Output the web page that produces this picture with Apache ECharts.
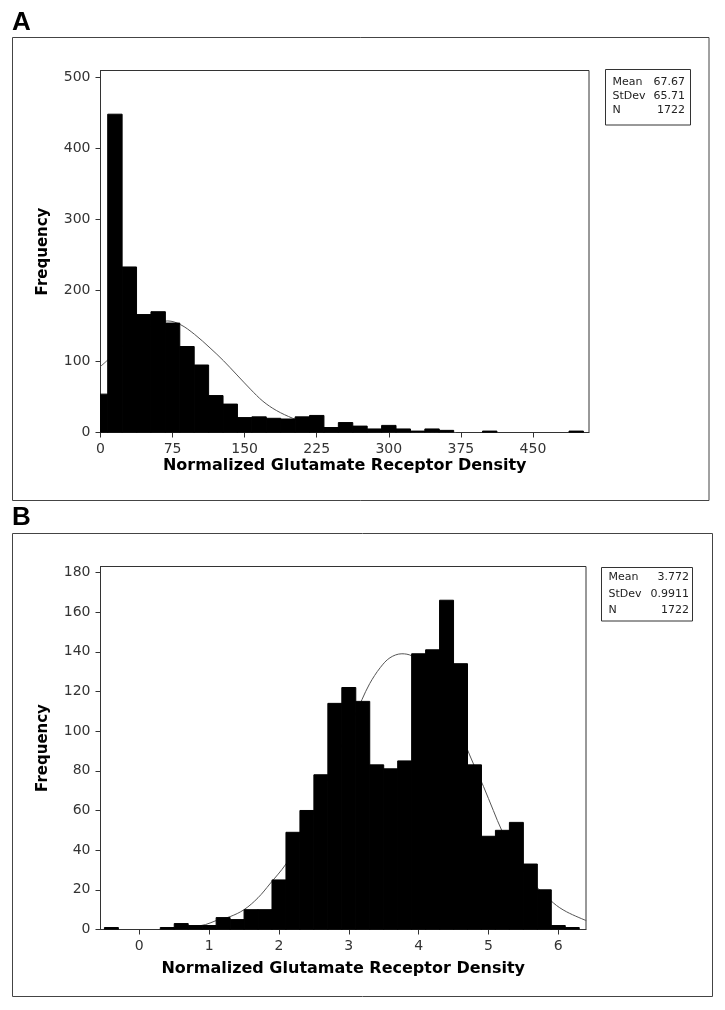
<!DOCTYPE html>
<html><head><meta charset="utf-8">
<script src="https://cdn.jsdelivr.net/npm/echarts@6/dist/echarts.min.js"></script>
<style>html,body{margin:0;padding:0;background:#fff}#c{width:725px;height:1010px}</style>
</head><body><div id="c"></div>
<script>
// ---------- Panel A data ----------
const binWidthA = 15;
const binCentersA = [0,15,30,45,60,75,90,105,120,135,150,165,180,195,210,225,240,255,270,285,300,315,330,345,360,375,390,405,420,435,450,465,480,495];
const countsA     = [54,448,233,166,170,154,121,95,52,40,21,22,20,19,22,24,7,14,9,5,10,5,2,5,3,0,0,2,0,0,0,0,0,2];
const curveXA = [0,7.5,15,30,45,60,70,83,98,114,128,142,156,169,183,200,215,235,250,280,320,370];
const curveYA = [93,102,112,130,145,154,157,152,138,119,101,81,61,44,31,20,12.5,6,3.5,1,0.2,0];
const xTicksA = [0,75,150,225,300,375,450];
const yTicksA = [0,100,200,300,400,500];
const statLabelsA = ['Mean','StDev','N'];
const statValuesA = ['67.67','65.71','1722'];

// ---------- Panel B data ----------
const binWidthB = 0.2;
const binCentersB = [-0.4,-0.2,0,0.2,0.4,0.6,0.8,1.0,1.2,1.4,1.6,1.8,2.0,2.2,2.4,2.6,2.8,3.0,3.2,3.4,3.6,3.8,4.0,4.2,4.4,4.6,4.8,5.0,5.2,5.4,5.6,5.8,6.0,6.2];
const countsB     = [1,0,0,0,1,3,2,2,6,5,10,10,25,49,60,78,114,122,115,83,81,85,139,141,166,134,83,47,50,54,33,20,2,1];
const curveXB = [0.5,0.7,0.95,1.1,1.3,1.5,1.7,1.87,2.1,2.3,2.5,2.7,2.9,3.19,3.3,3.45,3.59,3.76,3.9,4.1,4.3,4.5,4.73,4.93,5.07,5.19,5.4,5.6,5.93,6.12,6.4];
const curveYB = [0.6,1.1,2.5,4.5,6.5,10,16,23,33,45,59,76,93,116,124,132,137,139,138,133,122,108,88,72,60,50,36,25,13.4,8.9,4.5];
const xTicksB = [0,1,2,3,4,5,6];
const yTicksB = [0,20,40,60,80,100,120,140,160,180];
const statLabelsB = ['Mean','StDev','N'];
const statValuesB = ['3.772','0.9911','1722'];

const xTitle = 'Normalized Glutamate Receptor Density';
const yTitle = 'Frequency';
const FONT = 'DejaVu Sans';

function bins(centers, counts, w) {
  return centers.map((c, i) => [c - w / 2, c + w / 2, counts[i]]).filter(d => d[2] > 0);
}
function renderBar(params, api) {
  const p0 = api.coord([api.value(0), api.value(2)]);
  const p1 = api.coord([api.value(1), 0]);
  return { type: 'rect', shape: { x: p0[0], y: p0[1], width: p1[0] - p0[0], height: p1[1] - p0[1] },
           style: { fill: '#000', stroke: '#000', lineWidth: 1 } };
}
function xAxisCfg(gi, min, max, ticks, gap) {
  return { gridIndex: gi, type: 'value', min: min, max: max,
    axisLine: { show: true, onZero: false, lineStyle: { color: '#333', width: 1 } },
    axisTick: { show: true, customValues: ticks, length: 5, lineStyle: { color: '#333' } },
    axisLabel: { customValues: ticks, color: '#333', fontSize: 14, fontFamily: FONT, margin: 10 },
    splitLine: { show: false },
    name: xTitle, nameLocation: 'middle', nameGap: gap,
    nameTextStyle: { fontSize: 16, fontWeight: 'bold', color: '#000', fontFamily: FONT } };
}
function yAxisCfg(gi, max, ticks) {
  return { gridIndex: gi, type: 'value', min: 0, max: max,
    axisLine: { show: true, onZero: false, lineStyle: { color: '#333', width: 1 } },
    axisTick: { show: true, customValues: ticks, length: 5, lineStyle: { color: '#333' } },
    axisLabel: { customValues: ticks, color: '#333', fontSize: 14, fontFamily: FONT, margin: 10 },
    splitLine: { show: false },
    name: yTitle, nameLocation: 'middle', nameGap: 50,
    nameTextStyle: { fontSize: 15, fontWeight: 'bold', color: '#000', fontFamily: FONT } };
}
function statsBox(x, y, w, h, labels, values, lx, vx, rows) {
  const children = [{ type: 'rect', shape: { x: x, y: y, width: w, height: h },
    style: { fill: '#fff', stroke: '#333', lineWidth: 1 } }];
  labels.forEach((l, i) => {
    children.push({ type: 'text', x: lx, y: rows[i], style: { text: l, fontSize: 11, fontFamily: FONT, fill: '#222', align: 'left', verticalAlign: 'middle' } });
    children.push({ type: 'text', x: vx, y: rows[i], style: { text: values[i], fontSize: 11, fontFamily: FONT, fill: '#222', align: 'right', verticalAlign: 'middle' } });
  });
  return { type: 'group', children: children };
}

const chart = echarts.init(document.getElementById('c'), null, { renderer: 'canvas' });
chart.setOption({
  animation: false,
  backgroundColor: '#fff',
  grid: [
    { left: 100.5, top: 70.5, width: 488.5, height: 362, show: true, borderColor: '#333', borderWidth: 1, backgroundColor: '#fff' },
    { left: 100.5, top: 566.5, width: 485.5, height: 363, show: true, borderColor: '#333', borderWidth: 1, backgroundColor: '#fff' }
  ],
  xAxis: [ xAxisCfg(0, 0, 508.3, xTicksA, 25), xAxisCfg(1, -0.556, 6.397, xTicksB, 31) ],
  yAxis: [ yAxisCfg(0, 509.5, yTicksA), yAxisCfg(1, 183, yTicksB) ],
  series: [
    { type: 'line', xAxisIndex: 0, yAxisIndex: 0, data: curveXA.map((x, i) => [x, curveYA[i]]),
      smooth: 0.35, symbol: 'none', lineStyle: { color: '#555', width: 1 }, z: 1, silent: true, clip: true },
    { type: 'custom', xAxisIndex: 0, yAxisIndex: 0, data: bins(binCentersA, countsA, binWidthA),
      encode: { x: [0, 1], y: 2 }, renderItem: renderBar, clip: true, z: 2, silent: true },
    { type: 'line', xAxisIndex: 1, yAxisIndex: 1, data: curveXB.map((x, i) => [x, curveYB[i]]),
      smooth: 0.35, symbol: 'none', lineStyle: { color: '#555', width: 1 }, z: 1, silent: true, clip: true },
    { type: 'custom', xAxisIndex: 1, yAxisIndex: 1, data: bins(binCentersB, countsB, binWidthB),
      encode: { x: [0, 1], y: 2 }, renderItem: renderBar, clip: true, z: 2, silent: true }
  ],
  graphic: [
    { type: 'rect', shape: { x: 12.5, y: 37.5, width: 696.5, height: 463 }, style: { fill: 'none', stroke: '#444', lineWidth: 1 }, silent: true },
    { type: 'rect', shape: { x: 12.5, y: 533.5, width: 700, height: 463 }, style: { fill: 'none', stroke: '#444', lineWidth: 1 }, silent: true },
    { type: 'text', x: 12, y: 22.5, style: { text: 'A', fontSize: 26, fontWeight: 'bold', fontFamily: 'Liberation Sans', fill: '#000', align: 'left', verticalAlign: 'middle' } },
    { type: 'text', x: 12, y: 518, style: { text: 'B', fontSize: 26, fontWeight: 'bold', fontFamily: 'Liberation Sans', fill: '#000', align: 'left', verticalAlign: 'middle' } },
    statsBox(605.5, 69.5, 85, 55.5, statLabelsA, statValuesA, 612.5, 685, [82, 96, 110]),
    statsBox(601.5, 567.5, 91, 53.5, statLabelsB, statValuesB, 608.5, 689, [577, 594, 610])
  ]
});
</script>
</body></html>
